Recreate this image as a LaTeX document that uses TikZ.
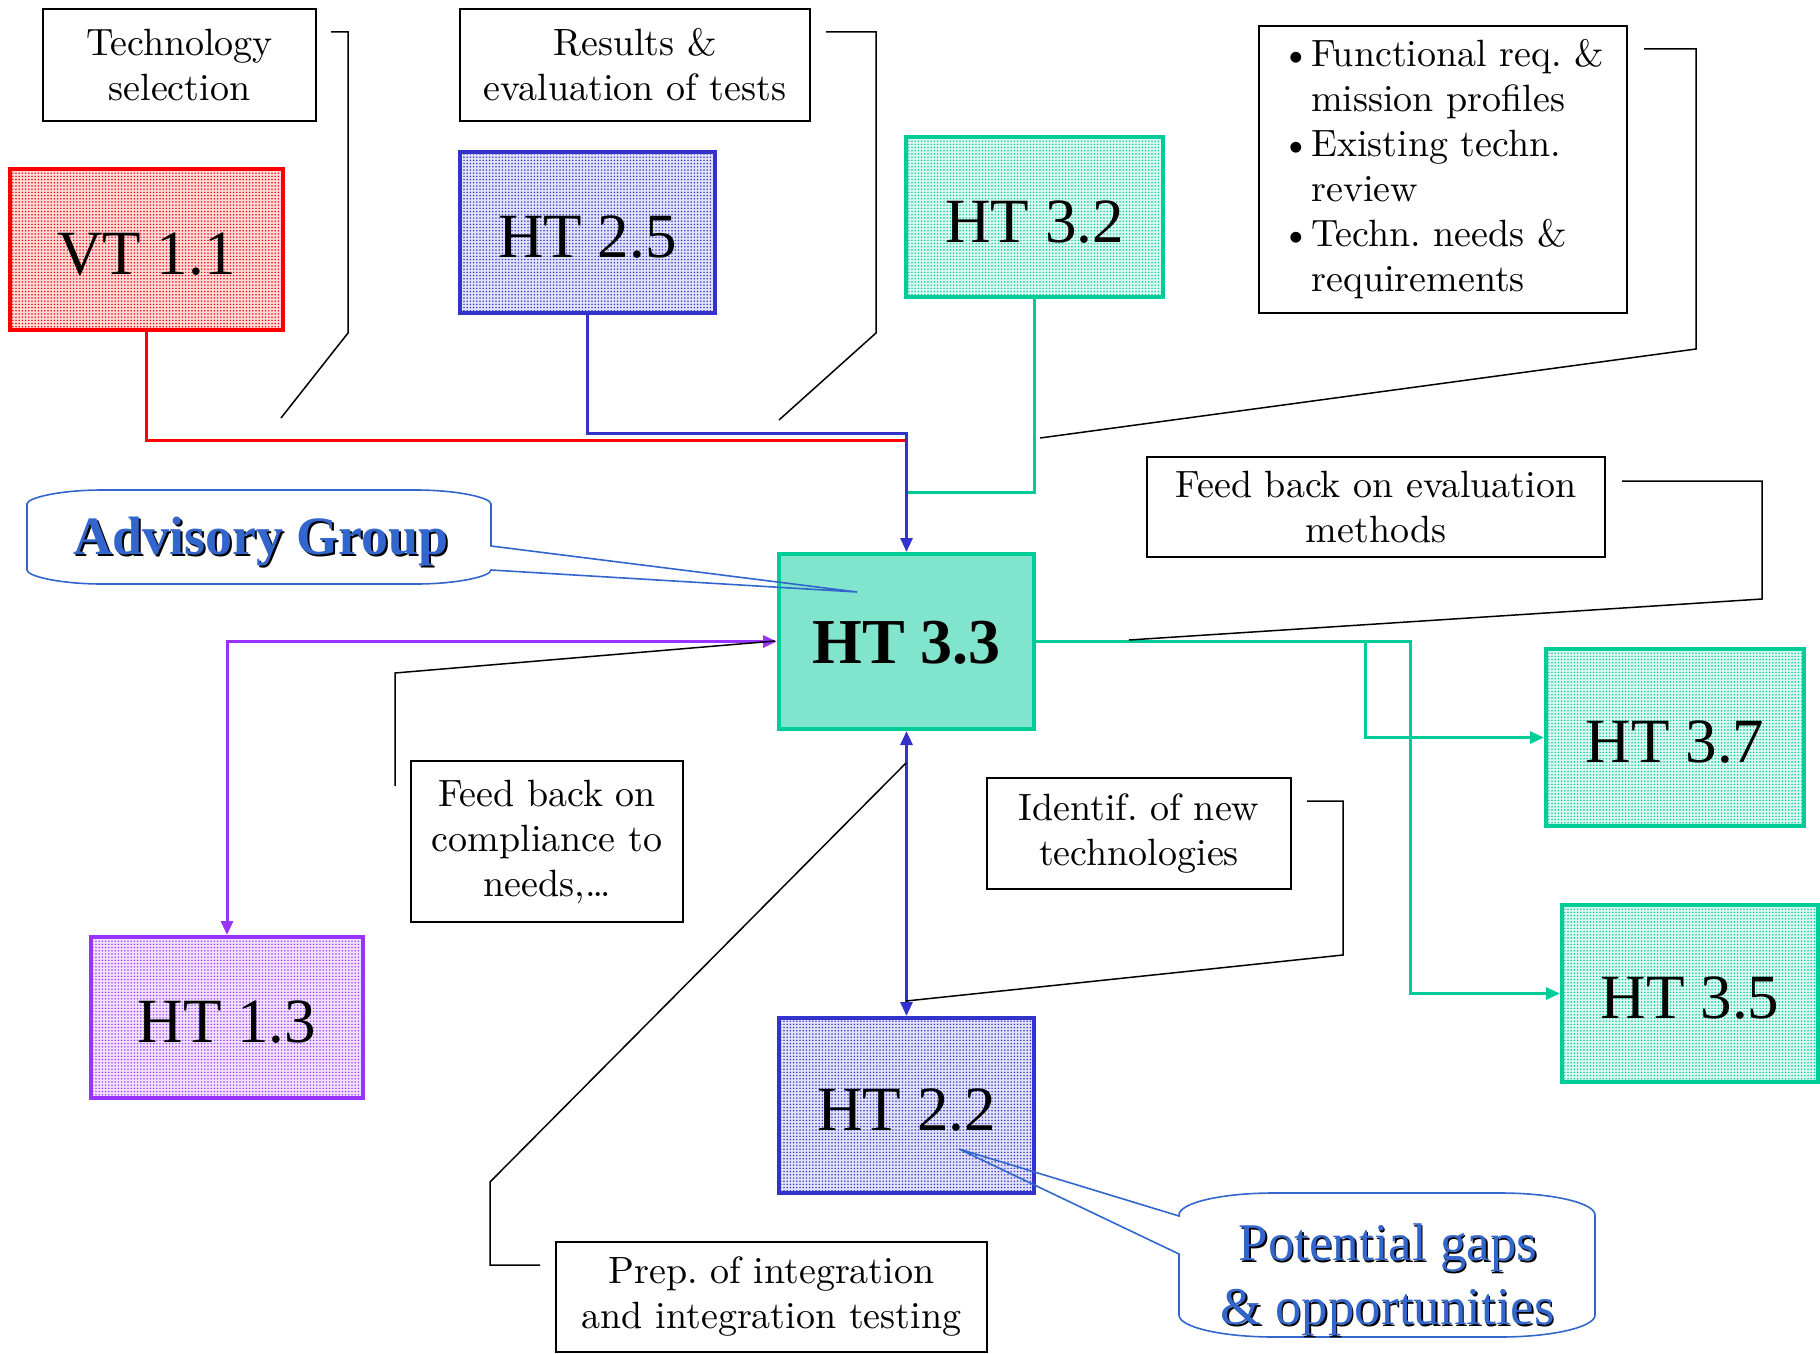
\documentclass[tikz,border=0pt]{standalone}
\usepackage{fontspec}
\newfontfamily\tnr{Liberation Serif}
\newfontfamily\notefont[Extension=.otf]{lmroman10-regular}
\usetikzlibrary{arrows.meta,calc,patterns.meta}
\frenchspacing

\definecolor{cRed}{RGB}{255,0,0}
\definecolor{cBlue}{RGB}{51,51,204}
\definecolor{cTeal}{RGB}{0,204,153}
\definecolor{cTealFill}{RGB}{128,229,204}
\definecolor{cPurple}{RGB}{153,51,255}
\definecolor{cCall}{RGB}{51,102,204}

\begin{document}
\begin{tikzpicture}[x=0.5pt,y=-0.5pt,
  note/.style={draw=black, line width=1pt, fill=white, align=center,
    inner sep=0pt, font=\notefont\fontsize{19}{22.5}\selectfont\frenchspacing},
  wp/.style={line width=2pt, align=center, inner sep=0pt,
    text height=25pt, text depth=0pt,
    font=\tnr\fontsize{31.5}{36}\selectfont},
  dotted fill/.style={fill=#1!14, draw=#1,
    postaction={pattern={Dots[distance=1.6pt,radius=0.42pt]}, pattern color=#1}},
  wire/.style={line width=1.5pt},
  tip/.style={-{Triangle[length=7pt,width=6pt]}},
  tips/.style={{Triangle[length=7pt,width=6pt]}-{Triangle[length=7pt,width=6pt]}},
  ptr/.style={line width=0.75pt, black},
  bubble/.style={draw=cCall, line width=0.8pt},
  bubbletext/.style={font=\tnr\fontsize{26.5}{32}\selectfont, align=center, inner sep=0pt}
]
\useasboundingbox (0,0) rectangle (1820,1354);

% junction points where the incoming lines meet above HT 3.3
\coordinate (jr) at (906.5,440);
\coordinate (jb) at (906.5,433);
\coordinate (jt) at (906.5,492);
\coordinate (s37) at (1365,641.5);
\coordinate (s35) at (1410,641.5);

% work package boxes
\node[wp, dotted fill=cRed, minimum width=136.5pt, minimum height=80.5pt] (vt11) at (146.5,249.5) {VT 1.1};
\node[wp, dotted fill=cBlue, minimum width=127.5pt, minimum height=80.5pt] (ht25) at (587.5,232.5) {HT 2.5};
\node[wp, dotted fill=cTeal, minimum width=128.5pt, minimum height=80pt] (ht32) at (1034.5,217) {HT 3.2};
\node[wp, fill=cTealFill, draw=cTeal, minimum width=127.5pt, minimum height=87.5pt,
  text height=22pt, font=\tnr\bfseries\fontsize{32}{36}\selectfont] (ht33) at (906.5,641.5) {HT 3.3};
\node[wp, dotted fill=cPurple, minimum width=136pt, minimum height=80.5pt] (ht13) at (227,1017.5) {HT 1.3};
\node[wp, dotted fill=cTeal, minimum width=129pt, minimum height=88.5pt] (ht37) at (1675,737.5) {HT 3.7};
\node[wp, dotted fill=cTeal, minimum width=128pt, minimum height=88.5pt] (ht35) at (1690,993.5) {HT 3.5};
\node[wp, dotted fill=cBlue, minimum width=127.5pt, minimum height=87.5pt] (ht22) at (906.5,1105.5) {HT 2.2};

% coloured flows
\draw[wire, cRed] (vt11.south) |- (jr);
\draw[wire, cTeal] (ht32.south) |- (jt);
\draw[wire, cBlue, tip] (ht25.south) |- (jb) -- (ht33.north);
\draw[wire, cBlue, tips] (ht33.south) -- (ht22.north);
\draw[wire, cPurple, tips] (ht13.north) |- (ht33.west);
\draw[wire, cTeal, tip] (ht33.east) -- (s35) |- (ht35.west);
\draw[wire, cTeal, tip] (s37) |- (ht37.west);

% annotation boxes
\node[note, minimum width=136.5pt, minimum height=56pt] (tech) at (179.5,65) {Technology\\selection};
\node[note, minimum width=175pt, minimum height=56pt] (results) at (635,65) {Results \&\\evaluation of tests};
\node[note, minimum width=184pt, minimum height=143.5pt, align=left] (func) at (1443,169.5)
  {\textbullet Functional req. \&\\\hphantom{\textbullet}mission profiles\\
   \textbullet Existing techn.\\\hphantom{\textbullet}review\\
   \textbullet Techn. needs \&\\\hphantom{\textbullet}requirements};
\node[note, minimum width=229pt, minimum height=50pt] (fbeval) at (1376,507) {Feed back on evaluation\\methods};
\node[note, minimum width=136pt, minimum height=80.5pt] (fbcomp) at (547,841.5) {Feed back on\\compliance to\\needs,\ldots};
\node[note, minimum width=152pt, minimum height=55.5pt] (ident) at (1139,833.5) {Identif. of new\\technologies};
\node[note, minimum width=215.5pt, minimum height=55pt] (prep) at (771.5,1297) {Prep. of integration\\and integration testing};

% leader lines from the annotations
\coordinate (techA) at (331,32);   \coordinate (techB) at (281,418);
\coordinate (resA) at (826,32);    \coordinate (resB) at (779,420);
\coordinate (funcA) at (1644,49);  \coordinate (funcB) at (1040,438);
\coordinate (evalA) at (1622,481); \coordinate (evalB) at (1129,640);
\coordinate (compA) at (395,786);  \coordinate (compB) at (775,641);
\coordinate (idA) at (1307,801);   \coordinate (idB) at (906,1001);
\coordinate (prepA) at (540,1265); \coordinate (prepB) at (906,763);
\draw[ptr] (techA) -- (348,32) -- (348,333) -- (techB);
\draw[ptr] (resA) -- (876,32) -- (876,333) -- (resB);
\draw[ptr] (funcA) -- (1696,49) -- (1696,349) -- (funcB);
\draw[ptr] (evalA) -- (1762,481) -- (1762,599) -- (evalB);
\draw[ptr] (compA) -- (395,673) -- (compB);
\draw[ptr] (idA) -- (1343,801) -- (1343,955) -- (idB);
\draw[ptr] (prepA) -- (490,1265) -- (490,1182) -- (prepB);

% speech bubbles
\draw[bubble] (102,490) -- (416,490) .. controls (457.4,490) and (491,497.7) .. (491,504)
  -- (491,546) -- (857,592) -- (491,570)
  .. controls (491,576.3) and (457.4,584) .. (416,584)
  -- (102,584) .. controls (60.6,584) and (27,576.3) .. (27,570)
  -- (27,504) .. controls (27,497.7) and (60.6,490) .. (102,490) -- cycle;
\node[bubbletext, text=black, font=\tnr\bfseries\fontsize{27}{32}\selectfont] (advS) at (263,544) {Advisory Group};
\node[bubbletext, text=cCall, font=\tnr\bfseries\fontsize{27}{32}\selectfont] (adv) at (261,542) {Advisory Group};

\draw[bubble] (1274,1193) -- (1500,1193) .. controls (1552.4,1193) and (1595,1202.9) .. (1595,1215)
  -- (1595,1315) .. controls (1595,1327.1) and (1552.4,1337) .. (1500,1337)
  -- (1274,1337) .. controls (1221.6,1337) and (1179,1327.1) .. (1179,1315)
  -- (1179,1254) -- (959,1149) -- (1179,1216) -- (1179,1215)
  .. controls (1179,1202.9) and (1221.6,1193) .. (1274,1193) -- cycle;
\node[bubbletext, text=black] (potS) at (1389.5,1281.5) {Potential gaps\\\& opportunities};
\node[bubbletext, text=cCall] (pot) at (1388,1280) {Potential gaps\\\& opportunities};
\end{tikzpicture}
\end{document}
